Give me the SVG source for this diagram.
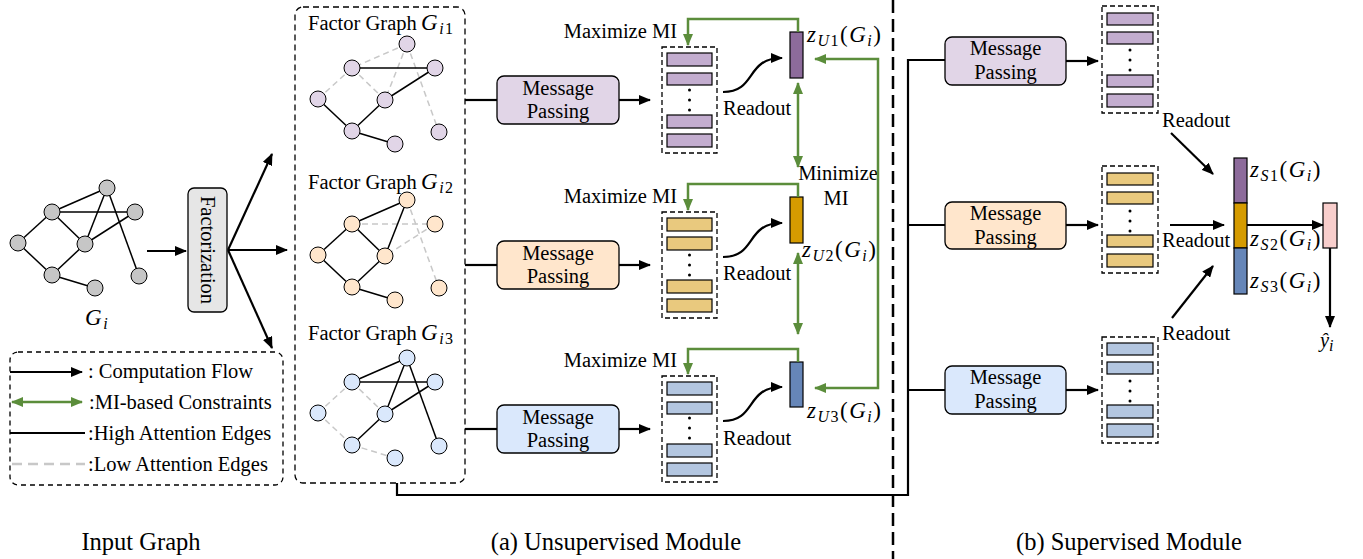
<svg xmlns="http://www.w3.org/2000/svg" xmlns:xlink="http://www.w3.org/1999/xlink" width="1363" height="559" viewBox="0 0 1363 559">
<style>
.t{font-family:"Liberation Serif","Times New Roman",serif;font-size:20.5px;fill:#000}
.i{font-style:italic}
.mz{font-size:23px;letter-spacing:1.5px}
.fl{stroke:#000;stroke-width:2.2;fill:none}
.gr{stroke:#5b8d3b;stroke-width:2.5;fill:none}
.hi{stroke:#000;stroke-width:1.5}
.lo{stroke:#c8c8c8;stroke-width:1.5;stroke-dasharray:6,4}
.nd{stroke:#000;stroke-width:1}
.box{stroke:#000;stroke-width:1.3}
.dsh{fill:none;stroke:#000;stroke-width:1.3;stroke-dasharray:5,3}
.bar{stroke:#000;stroke-width:1.2}
.p1{fill:#e1d5e7}.p2{fill:#ffe6cc}.p3{fill:#dae8fc}
.b1{fill:#c3adcf}.b2{fill:#e9c97e}.b3{fill:#b3c6e0}
.cap{font-size:24.5px}
</style>
<defs>
<marker id="ah" viewBox="0 0 12 10" refX="11" refY="5" markerWidth="12" markerHeight="10" orient="auto" markerUnits="userSpaceOnUse"><path d="M0,0 L12,5 L0,10 z" fill="#000"/></marker>
<marker id="ag" viewBox="0 0 12 10" refX="11" refY="5" markerWidth="12" markerHeight="10" orient="auto-start-reverse" markerUnits="userSpaceOnUse"><path d="M0,0 L12,5 L0,10 z" fill="#5b8d3b"/></marker>
<g id="dots"><circle cx="0" cy="0" r="1.5"/><circle cx="0" cy="10" r="1.5"/><circle cx="0" cy="20" r="1.5"/></g>
</defs>

<!-- divider -->
<line x1="893" y1="0" x2="893" y2="559" stroke="#000" stroke-width="2.5" stroke-dasharray="13,6"/>

<!-- Input graph -->
<g id="input-graph">
<g class="hi">
<line x1="107" y1="188" x2="52" y2="212"/><line x1="52" y1="212" x2="135" y2="212"/><line x1="107" y1="188" x2="85" y2="244"/><line x1="107" y1="188" x2="139" y2="276"/><line x1="52" y1="212" x2="18" y2="243"/><line x1="52" y1="212" x2="85" y2="244"/><line x1="85" y1="244" x2="135" y2="212"/><line x1="18" y1="243" x2="52" y2="275"/><line x1="85" y1="244" x2="52" y2="275"/><line x1="52" y1="275" x2="95" y2="288"/>
</g>
<g class="nd" fill="#c6c6c6">
<circle cx="107" cy="188" r="8"/><circle cx="52" cy="212" r="8"/><circle cx="135" cy="212" r="8"/><circle cx="18" cy="243" r="8"/><circle cx="85" cy="244" r="8"/><circle cx="52" cy="275" r="8"/><circle cx="95" cy="288" r="8"/><circle cx="139" cy="276" r="8"/>
</g>
<text class="t i mz" x="85" y="325">G<tspan font-size="16" dy="4">i</tspan></text>
</g>

<g id="factorization">
<rect x="188" y="188" width="39" height="124" rx="6" fill="#e6e6e6" class="box"/>
<text class="t" transform="translate(207.5,250) rotate(90)" text-anchor="middle" dy="7">Factorization</text>
</g>

<!-- Legend -->
<g id="legend">
<rect x="10" y="352" width="273" height="133" rx="8" fill="none" stroke="#000" stroke-width="1.3" stroke-dasharray="5,4"/>
<line x1="10" y1="372" x2="82" y2="372" class="fl" marker-end="url(#ah)"/>
<line x1="12" y1="402" x2="82" y2="402" class="gr" marker-start="url(#ag)" marker-end="url(#ag)"/>
<line x1="10" y1="433" x2="85" y2="433" stroke="#000" stroke-width="2"/>
<line x1="12" y1="464" x2="85" y2="464" stroke="#c8c8c8" stroke-width="2.5" stroke-dasharray="10,6"/>
<text class="t" x="88" y="378" font-size="21">: Computation Flow</text>
<text class="t" x="89" y="409" font-size="21">:MI-based Constraints</text>
<text class="t" x="88" y="440" font-size="21">:High Attention Edges</text>
<text class="t" x="88" y="471" font-size="21">:Low Attention Edges</text>
</g>

<!-- Factor graphs -->
<g id="factor-graphs">
<rect x="295" y="7" width="170" height="476" rx="8" fill="none" stroke="#000" stroke-width="1.3" stroke-dasharray="6,4"/>
<text class="t" x="308" y="30">Factor Graph</text>
<text class="t i mz" x="421" y="30">G<tspan font-size="16" dy="4">i<tspan font-style="normal">1</tspan></tspan></text>
<text class="t" x="308" y="189">Factor Graph</text>
<text class="t i mz" x="421" y="189">G<tspan font-size="16" dy="4">i<tspan font-style="normal">2</tspan></tspan></text>
<text class="t" x="308" y="340">Factor Graph</text>
<text class="t i mz" x="421" y="340">G<tspan font-size="16" dy="4">i<tspan font-style="normal">3</tspan></tspan></text>
<g id="fg1" transform="translate(300,-144)">
<line class="lo" x1="107" y1="188" x2="52" y2="212"/><line class="lo" x1="52" y1="212" x2="18" y2="243"/><line class="lo" x1="52" y1="212" x2="85" y2="244"/><line class="lo" x1="107" y1="188" x2="85" y2="244"/><line class="lo" x1="107" y1="188" x2="139" y2="276"/>
<line class="hi" x1="52" y1="212" x2="135" y2="212"/><line class="hi" x1="135" y1="212" x2="85" y2="244"/><line class="hi" x1="85" y1="244" x2="52" y2="275"/><line class="hi" x1="18" y1="243" x2="52" y2="275"/><line class="hi" x1="52" y1="275" x2="95" y2="288"/>
<g class="nd p1"><circle cx="107" cy="188" r="8"/><circle cx="52" cy="212" r="8"/><circle cx="135" cy="212" r="8"/><circle cx="18" cy="243" r="8"/><circle cx="85" cy="244" r="8"/><circle cx="52" cy="275" r="8"/><circle cx="95" cy="288" r="8"/><circle cx="139" cy="276" r="8"/></g>
</g>
<g id="fg2" transform="translate(300,12)">
<line class="lo" x1="52" y1="212" x2="135" y2="212"/><line class="lo" x1="135" y1="212" x2="85" y2="244"/><line class="lo" x1="107" y1="188" x2="139" y2="276"/>
<line class="hi" x1="107" y1="188" x2="52" y2="212"/><line class="hi" x1="107" y1="188" x2="85" y2="244"/><line class="hi" x1="52" y1="212" x2="18" y2="243"/><line class="hi" x1="52" y1="212" x2="85" y2="244"/><line class="hi" x1="18" y1="243" x2="52" y2="275"/><line class="hi" x1="85" y1="244" x2="52" y2="275"/><line class="hi" x1="52" y1="275" x2="95" y2="288"/>
<g class="nd p2"><circle cx="107" cy="188" r="8"/><circle cx="52" cy="212" r="8"/><circle cx="135" cy="212" r="8"/><circle cx="18" cy="243" r="8"/><circle cx="85" cy="244" r="8"/><circle cx="52" cy="275" r="8"/><circle cx="95" cy="288" r="8"/><circle cx="139" cy="276" r="8"/></g>
</g>
<g id="fg3" transform="translate(300,170)">
<line class="lo" x1="52" y1="212" x2="18" y2="243"/><line class="lo" x1="52" y1="212" x2="85" y2="244"/><line class="lo" x1="18" y1="243" x2="52" y2="275"/><line class="lo" x1="52" y1="275" x2="95" y2="288"/>
<line class="hi" x1="107" y1="188" x2="52" y2="212"/><line class="hi" x1="52" y1="212" x2="135" y2="212"/><line class="hi" x1="107" y1="188" x2="85" y2="244"/><line class="hi" x1="107" y1="188" x2="139" y2="276"/><line class="hi" x1="135" y1="212" x2="85" y2="244"/><line class="hi" x1="85" y1="244" x2="52" y2="275"/>
<g class="nd p3"><circle cx="107" cy="188" r="8"/><circle cx="52" cy="212" r="8"/><circle cx="135" cy="212" r="8"/><circle cx="18" cy="243" r="8"/><circle cx="85" cy="244" r="8"/><circle cx="52" cy="275" r="8"/><circle cx="95" cy="288" r="8"/><circle cx="139" cy="276" r="8"/></g>
</g>
</g>

<!-- Unsupervised message passing -->
<g id="mp-u1"><rect x="497" y="76" width="122" height="48" rx="7" class="box p1"/><text class="t" x="558" y="95" text-anchor="middle">Message</text><text class="t" x="558" y="118" text-anchor="middle">Passing</text></g>
<g id="mp-u2"><rect x="497" y="241" width="122" height="48" rx="7" class="box p2"/><text class="t" x="558" y="260" text-anchor="middle">Message</text><text class="t" x="558" y="283" text-anchor="middle">Passing</text></g>
<g id="mp-u3"><rect x="497" y="405" width="122" height="48" rx="7" class="box p3"/><text class="t" x="558" y="424" text-anchor="middle">Message</text><text class="t" x="558" y="447" text-anchor="middle">Passing</text></g>

<g id="stack-u1"><rect x="662" y="47" width="55" height="106" class="dsh"/>
<g class="bar b1"><rect x="667" y="53" width="45" height="13"/><rect x="667" y="73" width="45" height="12"/><rect x="667" y="115" width="45" height="13"/><rect x="667" y="134" width="45" height="13"/></g>
<use xlink:href="#dots" x="689.5" y="90"/></g>
<g id="stack-u2"><rect x="662" y="212" width="55" height="106" class="dsh"/>
<g class="bar b2"><rect x="667" y="218" width="45" height="13"/><rect x="667" y="237" width="45" height="13"/><rect x="667" y="280" width="45" height="13"/><rect x="667" y="299" width="45" height="13"/></g>
<use xlink:href="#dots" x="689.5" y="255"/></g>
<g id="stack-u3"><rect x="662" y="376" width="55" height="106" class="dsh"/>
<g class="bar b3"><rect x="667" y="382" width="45" height="13"/><rect x="667" y="402" width="45" height="12"/><rect x="667" y="444" width="45" height="13"/><rect x="667" y="463" width="45" height="13"/></g>
<use xlink:href="#dots" x="689.5" y="418"/></g>

<g id="zu1"><rect x="790" y="32" width="13" height="46" class="bar" fill="#8d6b9b"/>
<text class="t i mz" x="807" y="42">z<tspan font-size="16" dy="4">U<tspan font-style="normal">1</tspan></tspan><tspan font-style="normal" dy="-4">(</tspan>G<tspan font-size="16" dy="4">i</tspan><tspan font-style="normal" dy="-4">)</tspan></text></g>
<g id="zu2"><rect x="790" y="197" width="13" height="46" class="bar" fill="#d59b00"/>
<text class="t i mz" x="802" y="257">z<tspan font-size="16" dy="4">U<tspan font-style="normal">2</tspan></tspan><tspan font-style="normal" dy="-4">(</tspan>G<tspan font-size="16" dy="4">i</tspan><tspan font-style="normal" dy="-4">)</tspan></text></g>
<g id="zu3"><rect x="790" y="362" width="13" height="45" class="bar" fill="#6686b8"/>
<text class="t i mz" x="807" y="418">z<tspan font-size="16" dy="4">U<tspan font-style="normal">3</tspan></tspan><tspan font-style="normal" dy="-4">(</tspan>G<tspan font-size="16" dy="4">i</tspan><tspan font-style="normal" dy="-4">)</tspan></text></g>

<g id="labels-u">
<text class="t" x="677" y="38" text-anchor="end">Maximize MI</text>
<text class="t" x="677" y="203" text-anchor="end">Maximize MI</text>
<text class="t" x="677" y="367" text-anchor="end">Maximize MI</text>
<text class="t" x="723" y="115">Readout</text>
<text class="t" x="723" y="280">Readout</text>
<text class="t" x="723" y="445">Readout</text>
<text class="t" x="838" y="180" text-anchor="middle">Minimize</text>
<text class="t" x="836" y="205" text-anchor="middle">MI</text>
</g>

<!-- Supervised -->
<g id="mp-s1"><rect x="945" y="37" width="121" height="48" rx="7" class="box p1"/><text class="t" x="1005.5" y="55" text-anchor="middle">Message</text><text class="t" x="1005.5" y="79" text-anchor="middle">Passing</text></g>
<g id="mp-s2"><rect x="945" y="202" width="121" height="47" rx="7" class="box p2"/><text class="t" x="1005.5" y="220" text-anchor="middle">Message</text><text class="t" x="1005.5" y="244" text-anchor="middle">Passing</text></g>
<g id="mp-s3"><rect x="945" y="366" width="121" height="48" rx="7" class="box p3"/><text class="t" x="1005.5" y="384" text-anchor="middle">Message</text><text class="t" x="1005.5" y="408" text-anchor="middle">Passing</text></g>

<g id="stack-s1"><rect x="1102" y="6" width="56" height="107" class="dsh"/>
<g class="bar b1"><rect x="1107" y="13" width="46" height="12"/><rect x="1107" y="32" width="46" height="12"/><rect x="1107" y="75" width="46" height="12"/><rect x="1107" y="94" width="46" height="13"/></g>
<use xlink:href="#dots" x="1130" y="50"/></g>
<g id="stack-s2"><rect x="1102" y="166" width="56" height="107" class="dsh"/>
<g class="bar b2"><rect x="1107" y="173" width="46" height="12"/><rect x="1107" y="192" width="46" height="12"/><rect x="1107" y="235" width="46" height="12"/><rect x="1107" y="254" width="46" height="13"/></g>
<use xlink:href="#dots" x="1130" y="211"/></g>
<g id="stack-s3"><rect x="1102" y="337" width="56" height="106" class="dsh"/>
<g class="bar b3"><rect x="1107" y="343" width="46" height="12"/><rect x="1107" y="362" width="46" height="12"/><rect x="1107" y="405" width="46" height="13"/><rect x="1107" y="424" width="46" height="13"/></g>
<use xlink:href="#dots" x="1130" y="381"/></g>

<g id="zs">
<rect x="1234" y="158" width="13" height="45" class="bar" fill="#8d6b9b"/>
<rect x="1234" y="203" width="13" height="45" class="bar" fill="#d59b00"/>
<rect x="1234" y="248" width="13" height="46" class="bar" fill="#6686b8"/>
<text class="t i mz" x="1250" y="177">z<tspan font-size="16" dy="4">S<tspan font-style="normal">1</tspan></tspan><tspan font-style="normal" dy="-4">(</tspan>G<tspan font-size="16" dy="4">i</tspan><tspan font-style="normal" dy="-4">)</tspan></text>
<text class="t i mz" x="1250" y="246">z<tspan font-size="16" dy="4">S<tspan font-style="normal">2</tspan></tspan><tspan font-style="normal" dy="-4">(</tspan>G<tspan font-size="16" dy="4">i</tspan><tspan font-style="normal" dy="-4">)</tspan></text>
<text class="t i mz" x="1250" y="288">z<tspan font-size="16" dy="4">S<tspan font-style="normal">3</tspan></tspan><tspan font-style="normal" dy="-4">(</tspan>G<tspan font-size="16" dy="4">i</tspan><tspan font-style="normal" dy="-4">)</tspan></text>
</g>
<g id="output"><rect x="1323" y="203" width="14" height="45" class="bar" fill="#f8cecc"/>
<text class="t i" x="1320" y="347" font-size="23">ŷ<tspan font-size="16" dy="4">i</tspan></text></g>

<g id="labels-s">
<text class="t" x="1162" y="127">Readout</text>
<text class="t" x="1162" y="247">Readout</text>
<text class="t" x="1162" y="340">Readout</text>
</g>

<!-- Connectors -->
<g id="connectors">
<line x1="147" y1="251" x2="186" y2="251" class="fl" marker-end="url(#ah)"/>
<line x1="228" y1="250" x2="272" y2="154" class="fl" marker-end="url(#ah)"/>
<line x1="228" y1="250" x2="287" y2="250" class="fl" marker-end="url(#ah)"/>
<line x1="228" y1="250" x2="272" y2="348" class="fl" marker-end="url(#ah)"/>
<line x1="465" y1="100" x2="497" y2="100" class="fl"/>
<line x1="465" y1="265" x2="497" y2="265" class="fl"/>
<line x1="465" y1="429" x2="497" y2="429" class="fl"/>
<line x1="619" y1="100" x2="650" y2="100" class="fl" marker-end="url(#ah)"/>
<line x1="619" y1="265" x2="650" y2="265" class="fl" marker-end="url(#ah)"/>
<line x1="619" y1="429" x2="650" y2="429" class="fl" marker-end="url(#ah)"/>
<path d="M723,92 C757,92 745,58 782,58" class="fl" marker-end="url(#ah)"/>
<path d="M723,257 C757,257 745,223 782,223" class="fl" marker-end="url(#ah)"/>
<path d="M723,421 C757,421 745,387 782,387" class="fl" marker-end="url(#ah)"/>
<path d="M798,32 L798,19 L688,19 L688,45" class="gr" marker-end="url(#ag)"/>
<path d="M798,197 L798,184 L688,184 L688,210" class="gr" marker-end="url(#ag)"/>
<path d="M798,362 L798,349 L688,349 L688,374" class="gr" marker-end="url(#ag)"/>
<line x1="798" y1="83" x2="798" y2="167" class="gr" marker-start="url(#ag)" marker-end="url(#ag)"/>
<line x1="798" y1="253" x2="798" y2="334" class="gr" marker-start="url(#ag)" marker-end="url(#ag)"/>
<path d="M815,59 L878,59 L878,388 L815,388" class="gr" marker-start="url(#ag)" marker-end="url(#ag)"/>
<path d="M397,483 L397,495 L908,495 L908,60 L945,60" class="fl"/>
<line x1="908" y1="225" x2="945" y2="225" class="fl"/>
<line x1="908" y1="390" x2="945" y2="390" class="fl"/>
<line x1="1066" y1="61" x2="1098" y2="61" class="fl" marker-end="url(#ah)"/>
<line x1="1066" y1="225" x2="1098" y2="225" class="fl" marker-end="url(#ah)"/>
<line x1="1066" y1="390" x2="1098" y2="390" class="fl" marker-end="url(#ah)"/>
<line x1="1171" y1="133" x2="1213" y2="174" class="fl" marker-end="url(#ah)"/>
<line x1="1170" y1="225" x2="1224" y2="225" class="fl" marker-end="url(#ah)"/>
<line x1="1172" y1="318" x2="1213" y2="266" class="fl" marker-end="url(#ah)"/>
<line x1="1247" y1="225" x2="1323" y2="225" class="fl" marker-end="url(#ah)"/>
<line x1="1330" y1="248" x2="1330" y2="327" class="fl" marker-end="url(#ah)"/>
</g>

<!-- Bottom captions -->
<g id="captions">
<text class="t cap" x="141" y="550" text-anchor="middle">Input Graph</text>
<text class="t cap" x="616" y="550" text-anchor="middle">(a) Unsupervised Module</text>
<text class="t cap" x="1129" y="550" text-anchor="middle">(b) Supervised Module</text>
</g>
</svg>
